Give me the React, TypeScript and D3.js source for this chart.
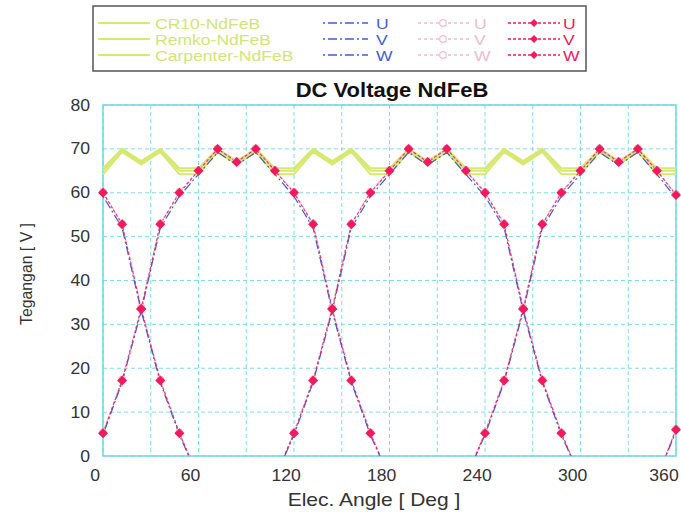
import React from "react";
import * as d3 from "d3";

// x positions (electrical angle, degrees)
const angles = [5, 17, 29, 41, 53, 65, 77, 89, 101, 113, 125, 137, 149, 161, 173, 185, 197, 209, 221, 233, 245, 257, 269, 281, 293, 305, 317, 329, 341, 353, 365];

// DC voltage envelopes
const dcCR10 = [64.2, 69.3, 66.4, 69.3, 64.2, 64.2, 69.3, 66.4, 69.3, 64.2, 64.2, 69.3, 66.4, 69.3, 64.2, 64.2, 69.3, 66.4, 69.3, 64.2, 64.2, 69.3, 66.4, 69.3, 64.2, 64.2, 69.3, 66.4, 69.3, 64.2, 64.2];
const dcRemko = [65.6, 70.0, 67.2, 70.0, 65.6, 65.6, 70.0, 67.2, 70.0, 65.6, 65.6, 70.0, 67.2, 70.0, 65.6, 65.6, 70.0, 67.2, 70.0, 65.6, 65.6, 70.0, 67.2, 70.0, 65.6, 65.6, 70.0, 67.2, 70.0, 65.6, 65.6];
const dcCarpenter = [65.0, 69.7, 66.8, 69.7, 65.0, 65.0, 69.7, 66.8, 69.7, 65.0, 65.0, 69.7, 66.8, 69.7, 65.0, 65.0, 69.7, 66.8, 69.7, 65.0, 65.0, 69.7, 66.8, 69.7, 65.0, 65.0, 69.7, 66.8, 69.7, 65.0, 65.0];

// Carpenter phases
const carpU = [60, 52.8, 33.5, 17.2, 5.2, -5, -17, -33.5, -53, -60, -65, -70, -67, -70, -65, -60, -53, -33.5, -17, -5, 5.2, 17.2, 33.5, 52.8, 60, 65, 70, 67, 70, 65, 59.5];
const carpV = [5.2, 17.2, 33.5, 52.8, 60, 65, 70, 67, 70, 65, 60, 52.8, 33.5, 17.2, 5.2, -5, -17, -33.5, -53, -60, -65, -70, -67, -70, -65, -60, -53, -33.5, -17, -5, 6];
const carpW = [-65, -70, -67, -70, -65, -60, -53, -33.5, -17, -5, 5.2, 17.2, 33.5, 52.8, 60, 65, 70, 67, 70, 65, 60, 52.8, 33.5, 17.2, 5.2, -5, -17, -33.5, -53, -60, -65];

// Remko phases
const remkoU = [60.2, 53.0, 33.8, 17.4, 5.4, -5, -17, -33.5, -53, -60, -65, -70, -67, -70, -65, -60, -53, -33.5, -17, -5, 5.4, 17.4, 33.8, 53.0, 60.2, 65.2, 70.1, 67.2, 70.1, 65.2, 59.7];
const remkoV = [5.4, 17.4, 33.8, 53.0, 60.2, 65.2, 70.1, 67.2, 70.1, 65.2, 60.2, 53.0, 33.8, 17.4, 5.4, -5, -17, -33.5, -53, -60, -65, -70, -67, -70, -65, -60, -53, -33.5, -17, -5, 6.2];
const remkoW = [-65, -70, -67, -70, -65, -60, -53, -33.5, -17, -5, 5.4, 17.4, 33.8, 53.0, 60.2, 65.2, 70.1, 67.2, 70.1, 65.2, 60.2, 53.0, 33.8, 17.4, 5.4, -5, -17, -33.5, -53, -60, -65];

// CR10 phases
const cr10U = [59.2, 52.0, 33.0, 16.8, 4.8, -5, -17, -33.5, -53, -60, -65, -70, -67, -70, -65, -60, -53, -33.5, -17, -5, 4.8, 16.8, 33.0, 52.0, 59.2, 64.2, 69.2, 66.3, 69.2, 64.2, 58.8];
const cr10V = [4.8, 16.8, 33.0, 52.0, 59.2, 64.2, 69.2, 66.3, 69.2, 64.2, 59.2, 52.0, 33.0, 16.8, 4.8, -5, -17, -33.5, -53, -60, -65, -70, -67, -70, -65, -60, -53, -33.5, -17, -5, 5.6];
const cr10W = [-65, -70, -67, -70, -65, -60, -53, -33.5, -17, -5, 4.8, 16.8, 33.0, 52.0, 59.2, 64.2, 69.2, 66.3, 69.2, 64.2, 59.2, 52.0, 33.0, 16.8, 4.8, -5, -17, -33.5, -53, -60, -65];

const xTicks = [0, 60, 120, 180, 240, 300, 360];
const yTicks = [0, 10, 20, 30, 40, 50, 60, 70, 80];
const xGrid = [5, 35, 65, 95, 125, 155, 185, 215, 245, 275, 305, 335, 365];

const dcNames = ["CR10-NdFeB", "Remko-NdFeB", "Carpenter-NdFeB"];
const phaseNames = ["U", "V", "W"];

const W = 681;
const H = 513;
const L = 103, R = 676, T = 105, B = 456;
const FONT = "Arial, 'Liberation Sans', sans-serif";
const YG = "#d6e870";
const YGT = "#d2e47a";
const BLUE = "#3f5fcf";
const PINK = "#ecbccb";
const RED = "#f01a5c";
const CYAN = "#6fd8e2";

export default function App() {
  const x = d3.scaleLinear().domain([5, 365]).range([L, R]);
  const y = d3.scaleLinear().domain([0, 80]).range([B, T]);
  const line = d3
    .line<number>()
    .x((_, i) => x(angles[i]))
    .y((d) => y(d));

  const diamond = (cx: number, cy: number, r = 5) =>
    `M${cx},${cy - r}L${cx + r},${cy}L${cx},${cy + r}L${cx - r},${cy}Z`;

  const dcSeries = [dcCR10, dcRemko, dcCarpenter];
  const cr10 = [cr10U, cr10V, cr10W];
  const remko = [remkoU, remkoV, remkoW];
  const carp = [carpU, carpV, carpW];

  const rowY = [23, 39, 55];
  const sx = (px: number, py: number, s: number) => `translate(${px},${py}) scale(${s},1)`;

  return (
    <svg
      width={W}
      height={H}
      style={{ position: "absolute", left: 0, top: 0, background: "#fff" }}
      fontFamily={FONT}
    >
      <defs>
        <clipPath id="plotclip">
          <rect x={L - 1} y={T - 6} width={R - L + 2} height={B - T + 6} />
        </clipPath>
      </defs>
      <rect width={W} height={H} fill="#fff" />

      {/* Legend */}
      <rect x={93} y={6} width={493} height={65} fill="#fff" stroke="#555" strokeWidth={1.5} />
      {dcNames.map((n, i) => (
        <g key={n}>
          <line x1={98} x2={150} y1={rowY[i]} y2={rowY[i]} stroke={YG} strokeWidth={1.8} />
          <text transform={sx(155, rowY[i] + 5.5, 1.17)} fontSize={15} fill={YGT}>
            {n}
          </text>
        </g>
      ))}
      {phaseNames.map((n, i) => (
        <g key={"p" + n}>
          <line x1={323} x2={368} y1={rowY[i]} y2={rowY[i]} stroke={BLUE} strokeWidth={1.3} strokeDasharray="2,3,9,3" />
          <text transform={sx(376, rowY[i] + 5.5, 1.17)} fontSize={15} fill={BLUE}>
            {n}
          </text>
          <line x1={418} x2={470} y1={rowY[i]} y2={rowY[i]} stroke={PINK} strokeWidth={1.3} strokeDasharray="3,3" />
          <circle cx={443} cy={rowY[i]} r={3.3} fill="#fff" stroke={PINK} strokeWidth={1.2} />
          <text transform={sx(474, rowY[i] + 5.5, 1.17)} fontSize={15} fill={PINK}>
            {n}
          </text>
          <line x1={508} x2={560} y1={rowY[i]} y2={rowY[i]} stroke={RED} strokeWidth={1.3} strokeDasharray="3,2" />
          <path d={diamond(534, rowY[i], 4)} fill={RED} />
          <text transform={sx(563, rowY[i] + 5.5, 1.17)} fontSize={15} fill={RED}>
            {n}
          </text>
        </g>
      ))}

      {/* Title */}
      <text transform={sx(392, 97, 1.1)} textAnchor="middle" fontSize={20} fontWeight="bold" fill="#111">
        DC Voltage NdFeB
      </text>

      {/* Grid */}
      {yTicks.map((t) => (
        <line key={"gy" + t} x1={L} x2={R} y1={y(t)} y2={y(t)} stroke={CYAN} strokeWidth={0.9} strokeDasharray="4,3" />
      ))}
      {xGrid.map((t) => (
        <line key={"gx" + t} x1={x(t)} x2={x(t)} y1={T} y2={B} stroke={CYAN} strokeWidth={0.9} strokeDasharray="4,3" />
      ))}

      {/* Frame */}
      <rect x={L} y={T} width={R - L} height={B - T} fill="none" stroke={CYAN} strokeWidth={1.5} />

      {/* Data lines */}
      <g clipPath="url(#plotclip)">
        {dcSeries.map((s, i) => (
          <path key={"dc" + i} d={line(s) || ""} fill="none" stroke={YG} strokeWidth={2} />
        ))}
        {remko.map((s, i) => (
          <path key={"rk" + i} d={line(s) || ""} fill="none" stroke={PINK} strokeWidth={1.2} strokeDasharray="3,3" />
        ))}
        {cr10.map((s, i) => (
          <path key={"cr" + i} d={line(s) || ""} fill="none" stroke={BLUE} strokeWidth={1.2} strokeDasharray="2,3,9,3" />
        ))}
        {carp.map((s, i) => (
          <path key={"cp" + i} d={line(s) || ""} fill="none" stroke={RED} strokeWidth={1.2} strokeDasharray="3,2" opacity={0.85} />
        ))}
      </g>

      {/* Markers */}
      {remko.map((s, i) =>
        s.map((v, j) =>
          v >= 0 ? (
            <circle key={"rc" + i + "-" + j} cx={x(angles[j])} cy={y(v)} r={3.3} fill="#fff" stroke={PINK} strokeWidth={1.2} />
          ) : null
        )
      )}
      {carp.map((s, i) =>
        s.map((v, j) =>
          v >= 0 ? <path key={"cd" + i + "-" + j} d={diamond(x(angles[j]), y(v), 5)} fill={RED} /> : null
        )
      )}

      {/* Axis labels */}
      {yTicks.map((t) => (
        <text key={"yl" + t} transform={sx(90, y(t) + 5.5, 1.1)} textAnchor="end" fontSize={16} fill="#333">
          {t}
        </text>
      ))}
      {xTicks.map((t) => (
        <text key={"xl" + t} transform={sx(Math.min(x(t), 664), 481, 1.1)} textAnchor="middle" fontSize={16} fill="#333">
          {t}
        </text>
      ))}
      <text transform={sx(374, 506, 1.2)} textAnchor="middle" fontSize={17.5} fill="#333">
        Elec. Angle [ Deg ]
      </text>
      <text
        transform={`translate(32,274) rotate(-90)`}
        textAnchor="middle"
        fontSize={17}
        textLength={102}
        lengthAdjust="spacingAndGlyphs"
        fill="#333"
      >
        Tegangan [ V ]
      </text>
    </svg>
  );
}
